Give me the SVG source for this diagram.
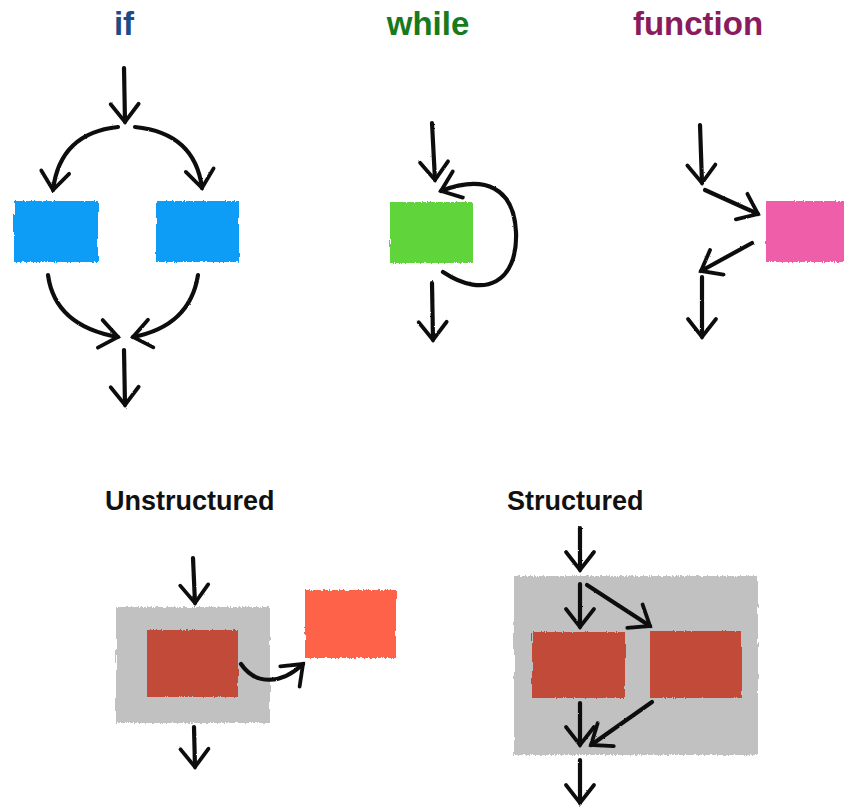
<svg xmlns="http://www.w3.org/2000/svg" width="844" height="807" viewBox="0 0 844 807">
  <defs>
    <!-- brushy edge for painted blocks -->
    <filter id="rough" x="-5%" y="-5%" width="110%" height="110%">
      <feTurbulence type="fractalNoise" baseFrequency="0.9 0.06" numOctaves="2" seed="3" result="n"/>
      <feDisplacementMap in="SourceGraphic" in2="n" scale="3.5" xChannelSelector="R" yChannelSelector="G"/>
    </filter>
    <!-- chalky stroke for arrows -->
    <filter id="ink" x="-10%" y="-10%" width="120%" height="120%">
      <feTurbulence type="fractalNoise" baseFrequency="0.5" numOctaves="2" seed="7" result="n"/>
      <feDisplacementMap in="SourceGraphic" in2="n" scale="2" xChannelSelector="R" yChannelSelector="G"/>
    </filter>
    <marker id="head" viewBox="-24 -20 28 40" refX="0" refY="0" markerWidth="28" markerHeight="40" markerUnits="userSpaceOnUse" orient="auto">
      <path d="M-18,-14 L0,0 L-18,14" fill="none" stroke="#111" stroke-width="3.8" stroke-linecap="round" stroke-linejoin="miter"/>
    </marker>
    <style>
      .title { font-family: "Liberation Sans", Arial, sans-serif; font-weight: bold; font-size: 33px; }
      .label { font-family: "Liberation Sans", Arial, sans-serif; font-weight: bold; font-size: 27px; fill: #111; }
      .block { filter: url(#rough); }
      .arrow { fill: none; stroke: #111; stroke-width: 4.2; stroke-linecap: round; marker-end: url(#head); }
    </style>
  </defs>

  <rect width="844" height="807" fill="#ffffff"/>

  <!-- headings -->
  <text class="title" x="124" y="35" text-anchor="middle" fill="#1b4c86">if</text>
  <text class="title" x="428" y="35" text-anchor="middle" fill="#177a1c">while</text>
  <text class="title" x="698" y="35" text-anchor="middle" fill="#8a1b5c">function</text>
  <text class="label" x="105" y="510">Unstructured</text>
  <text class="label" x="507" y="510">Structured</text>

  <!-- painted blocks -->
  <g id="if-then" class="block"><rect x="14" y="201" width="84" height="61" fill="#0a9cf6"/></g>
  <g id="if-else" class="block"><rect x="156" y="201" width="83" height="61" fill="#0a9cf6"/></g>
  <g id="while-body" class="block"><rect x="390" y="202" width="83" height="61" fill="#5ed43b"/></g>
  <g id="function-body" class="block"><rect x="766" y="201" width="80" height="61" fill="#ef5fa9"/></g>

  <g id="unstructured-frame" class="block"><rect x="116" y="607" width="154" height="116" fill="#c1c1c1"/></g>
  <g id="unstructured-inner" class="block"><rect x="147" y="630" width="91" height="67" fill="#c14b38"/></g>
  <g id="unstructured-target" class="block"><rect x="305" y="590" width="91" height="68" fill="#fe6449"/></g>

  <g id="structured-frame" class="block"><rect x="514" y="576" width="244" height="179" fill="#c1c1c1"/></g>
  <g id="structured-left" class="block"><rect x="532" y="632" width="93" height="66" fill="#c14b38"/></g>
  <g id="structured-right" class="block"><rect x="650" y="631" width="92" height="67" fill="#c14b38"/></g>

  <!-- connectors -->
  <g id="connectors" filter="url(#ink)">
    <!-- if -->
    <path class="arrow" d="M124,68 L125,122"/>
    <path class="arrow" d="M118,127 Q60,133 53,190"/>
    <path class="arrow" d="M135,127 Q195,133 202,188"/>
    <path class="arrow" d="M48,275 Q55,326 118,337"/>
    <path class="arrow" d="M198,275 Q190,326 133,337"/>
    <path class="arrow" d="M124,350 L125,405"/>
    <!-- while -->
    <path class="arrow" d="M432,123 L435,180"/>
    <path class="arrow" d="M443,272 C485,300 518,282 516,232 C514,188 485,174 441,191"/>
    <path class="arrow" d="M432,283 L433,340"/>
    <!-- function -->
    <path class="arrow" d="M700,125 L702,183"/>
    <path class="arrow" d="M705,190 L758,214"/>
    <path class="arrow" d="M752,243 L701,271"/>
    <path class="arrow" d="M702,277 L702,337"/>
    <!-- unstructured -->
    <path class="arrow" d="M193,558 L195,603"/>
    <path class="arrow" d="M241,664 C256,686 282,684 303,664"/>
    <path class="arrow" d="M194,727 L195,767"/>
    <!-- structured -->
    <path class="arrow" d="M580,528 L580,570"/>
    <path class="arrow" d="M580,584 L580,627"/>
    <path class="arrow" d="M587,585 L650,626"/>
    <path class="arrow" d="M580,703 L580,745"/>
    <path class="arrow" d="M652,702 L591,745"/>
    <path class="arrow" d="M580,760 L580,803"/>
  </g>
</svg>
